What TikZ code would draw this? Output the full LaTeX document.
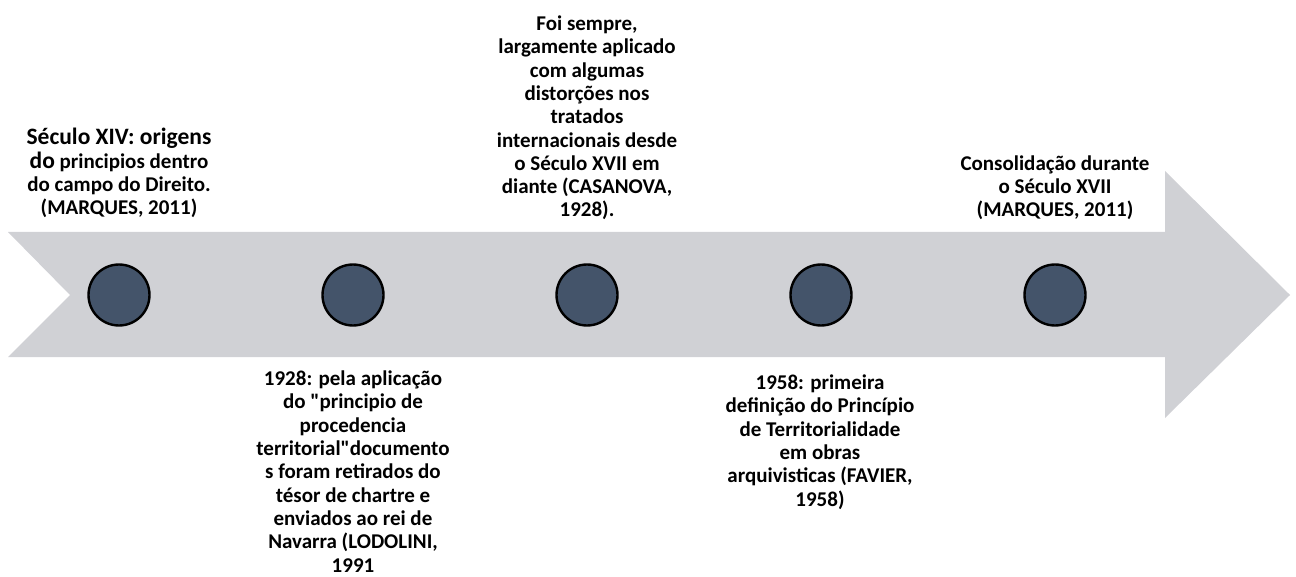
\documentclass[tikz,border=0pt]{standalone}
\usepackage{fontspec}
\setmainfont{Carlito}
\definecolor{band}{HTML}{D0D1D5}
\definecolor{dot}{HTML}{44546A}
\tikzset{
  dotnode/.style={circle, fill=dot, draw=black, line width=2.4pt, minimum size=61pt, inner sep=0pt},
  lbl/.style={align=center, inner sep=0pt, anchor=base, font=\fontsize{21}{23.3}\selectfont\bfseries},
}
\begin{document}
\begin{tikzpicture}[x=1pt,y=-1pt]
\useasboundingbox (0,0) rectangle (1296,577);
% arrow
\fill[band] (8,232) -- (1165,232) -- (1165,171) -- (1290,295) -- (1165,418) -- (1165,357) -- (8,357) -- (70,295) -- cycle;
% circles
\node[dotnode] (c1) at (119,295) {};
\node[dotnode] (c2) at (353,295) {};
\node[dotnode] (c3) at (587,295) {};
\node[dotnode] (c4) at (821,295) {};
\node[dotnode] (c5) at (1055,295) {};
% labels (base anchor = baseline of last line)
\node[lbl] (t1) at (119,215) {{\fontsize{23.5}{24.5}\selectfont Século XIV: origens}\\[1pt]{\fontsize{23.5}{24.5}\selectfont do} principios dentro\\do campo do Direito.\\(MARQUES, 2011)};
\node[lbl] (t3) at (587,217) {Foi sempre,\\largamente aplicado\\com algumas\\distorções nos\\tratados\\internacionais desde\\o Século XVII em\\diante (CASANOVA,\\1928).};
\node[lbl] (t5) at (1055,217) {Consolidação durante\\o Século XVII\\(MARQUES, 2011)};
\node[lbl] (t2) at (353,572) {1928: pela aplicação\\do \textquotedbl principio de\\procedencia\\territorial\textquotedbl documento\\s foram retirados do\\tésor de chartre e\\enviados ao rei de\\Navarra (LODOLINI,\\1991};
\node[lbl] (t4) at (820,506) {1958: primeira\\definição do Princípio\\de Territorialidade\\em obras\\arquivisticas (FAVIER,\\1958)};
\end{tikzpicture}
\end{document}
